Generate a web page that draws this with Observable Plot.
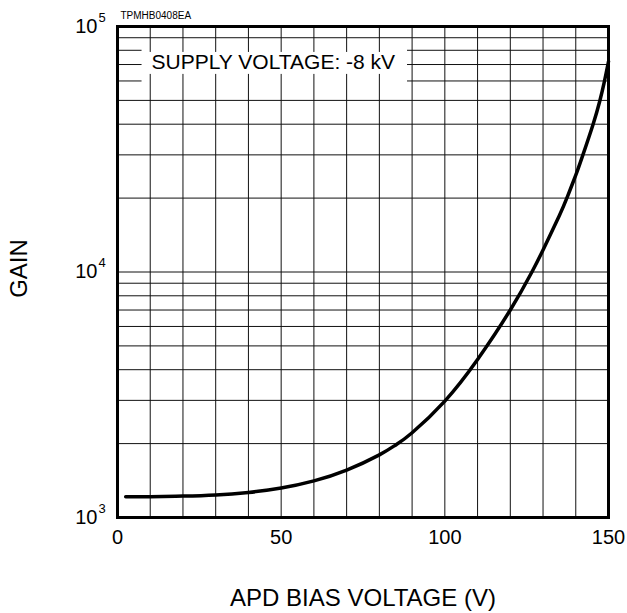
<!DOCTYPE html>
<html>
<head>
<meta charset="utf-8">
<script src="https://cdn.jsdelivr.net/npm/d3@7"></script>
<script src="https://cdn.jsdelivr.net/npm/@observablehq/plot@0.6"></script>
<style>
  html, body { margin: 0; padding: 0; background: #fff; }
  #chart { width: 627px; height: 613px; }
  svg { font-family: "Liberation Sans", Arial, sans-serif; }
</style>
</head>
<body>
<div id="chart"></div>
<script>
// ---- data ----
const voltage = [2.5, 10, 20, 30, 40, 50, 60, 70, 80, 85, 90, 100, 110, 120, 126.6, 130, 135, 137.4, 140, 142, 145.3, 147.3, 148.6, 150];
const gain    = [1215, 1216, 1222, 1235, 1265, 1318, 1410, 1560, 1800, 1975, 2215, 2980, 4400, 7000, 10000, 12300, 17000, 20200, 24800, 29500, 40000, 49500, 58500, 72000];

const xTicks = [0, 50, 100, 150];
const yDecades = [1000, 10000, 100000];
const yExponents = ["3", "4", "5"];
const xGrid = [10, 20, 30, 40, 50, 60, 70, 80, 90, 100, 110, 120, 130, 140];
const yGrid = [2000, 3000, 4000, 5000, 6000, 7000, 8000, 9000, 10000,
               20000, 30000, 40000, 50000, 60000, 70000, 80000, 90000];
const labelBoxY = [60000, 70000, 80000];  // horizontal lines broken by the label
const labelBox = {x1: 7.5, x2: 88.6, yLow: 63800, yHigh: 78400};

const curve = voltage.map((v, i) => ({v, g: gain[i]}));

// horizontal grid segments
const hSegs = [];
for (const y of yGrid) {
  if (labelBoxY.includes(y)) {
    hSegs.push({y, x1: 0, x2: labelBox.x1});
    hSegs.push({y, x1: labelBox.x2, x2: 150});
  } else {
    hSegs.push({y, x1: 0, x2: 150});
  }
}
// vertical grid segments
const vSegs = [];
for (const x of xGrid) {
  if (x > labelBox.x1 && x < labelBox.x2) {
    vSegs.push({x, y1: 1000, y2: labelBox.yLow});
    vSegs.push({x, y1: labelBox.yHigh, y2: 100000});
  } else {
    vSegs.push({x, y1: 1000, y2: 100000});
  }
}

const font = "Liberation Sans, Arial, sans-serif";

const chart = Plot.plot({
  width: 627,
  height: 613,
  marginLeft: 117,
  marginRight: 19,
  marginTop: 26,
  marginBottom: 96,
  style: {fontFamily: font, background: "#fff", color: "#000"},
  x: {domain: [0, 150], axis: null},
  y: {type: "log", domain: [1000, 100000], axis: null},
  marks: [
    Plot.ruleY(hSegs, {y: "y", x1: "x1", x2: "x2", stroke: "#111", strokeWidth: 1}),
    Plot.ruleX(vSegs, {x: "x", y1: "y1", y2: "y2", stroke: "#111", strokeWidth: 1}),
    Plot.line(curve, {x: "v", y: "g", curve: "natural", stroke: "#000", strokeWidth: 3.5}),
    Plot.frame({stroke: "#000", strokeWidth: 3}),
    // x tick labels
    Plot.text(xTicks, {x: d => d, y: () => 1000, text: d => String(d), dy: 20, fontSize: 20, fill: "#000", fontFamily: font}),
    // y tick labels: "10" + exponent
    Plot.text(yDecades, {x: () => 0, y: d => d, text: () => "10", dx: -20, dy: 0, textAnchor: "end", fontSize: 20, fill: "#000", fontFamily: font}),
    Plot.text(yDecades, {x: () => 0, y: d => d, text: (d, i) => yExponents[i], dx: -19, dy: -9, textAnchor: "start", fontSize: 13, fill: "#000", fontFamily: font}),
    // axis titles
    Plot.text(["APD BIAS VOLTAGE (V)"], {x: () => 75, y: () => 1000, text: d => d, dy: 81, fontSize: 24, fill: "#000", fontFamily: font}),
    Plot.text(["GAIN"], {x: () => 0, y: () => 10335, text: d => d, dx: -98, rotate: -90, fontSize: 24, fill: "#000", fontFamily: font}),
    // annotations
    Plot.text(["TPMHB0408EA"], {x: () => 0, y: () => 100000, text: d => d, dx: 3, dy: -11, textAnchor: "start", fontSize: 10, fill: "#000", fontFamily: font}),
    Plot.text(["SUPPLY VOLTAGE: -8 kV"], {x: () => 10.4, y: () => 70000, text: d => d, dy: -2, textAnchor: "start", fontSize: 21, fill: "#000", fontFamily: font})
  ]
});

document.getElementById("chart").appendChild(chart);
</script>
</body>
</html>
